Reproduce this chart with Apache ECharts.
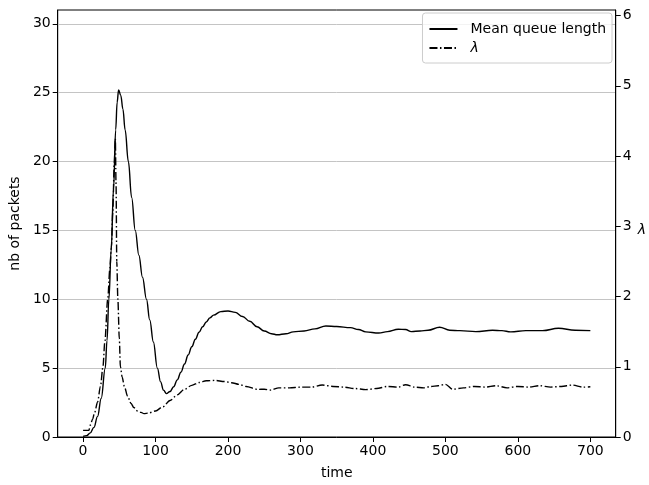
<!DOCTYPE html>
<html>
<head>
<meta charset="utf-8">
<script src="https://cdn.jsdelivr.net/npm/echarts@6/dist/echarts.min.js"></script>
<style>html,body{margin:0;padding:0;background:#fff}#c{width:649px;height:485px}</style>
</head>
<body>
<div id="c"></div>
<script>
var xTicks = [0, 100, 200, 300, 400, 500, 600, 700];
var leftTicks = [0, 5, 10, 15, 20, 25, 30];
var rightTicks = [0, 1, 2, 3, 4, 5, 6];

var queueT = [0,5,10,15,20,25,30.6,33,35.6,38.8,42,45,47,49,52,55,58,62.5,67,72,77,82,87.5,92,97,102.5,107,111,115,120,125,130,135,140,145,150,155,160,165,170,175,180,190,200,210,220,230,240,250,260,268,280,290,305,320,335,350,369,380,390,408,420,435,445,453,465,476,492,506,520,542,565,578,590,611,634,656,679,700];
var queueV = [0.05,0.1,0.3,0.7,1.5,2.8,5,7,10,13.6,18,22.3,24.3,25.2,24.8,23.8,22.3,20,17.4,15,13.2,11.6,10,8.5,6.9,5.0,4.0,3.4,3.15,3.3,3.65,4.15,4.7,5.3,5.95,6.55,7.1,7.6,8.0,8.35,8.65,8.85,9.1,9.15,9.05,8.75,8.4,8.0,7.7,7.5,7.42,7.5,7.63,7.7,7.85,8.06,8.02,7.94,7.8,7.63,7.55,7.65,7.82,7.8,7.65,7.7,7.75,7.97,7.75,7.72,7.65,7.75,7.72,7.63,7.72,7.72,7.89,7.75,7.72];

var lambdaT = [0,8,10,13,16,20,24,27.4,30,34,37,39,41,43,44.5,45.5,46.5,48,50,51.5,54,57,61.5,66,70,75,80,84,90,100,110,120,130,140,150,160,170,182,195,205,215,225,241,250,259,270,285,300,315,330,345,360,375,390,405,420,435,445,458,470,480,490,500,510,525,540,555,570,585,600,615,630,645,660,675,690,700];
var lambdaV = [0.095,0.095,0.17,0.25,0.35,0.5,0.72,1.0,1.35,1.96,2.4,2.7,3.2,3.9,4.25,3.6,2.5,1.96,1.4,1.0,0.85,0.72,0.58,0.48,0.42,0.37,0.35,0.333,0.34,0.37,0.43,0.52,0.6,0.68,0.735,0.775,0.8,0.806,0.79,0.773,0.75,0.72,0.678,0.68,0.668,0.7,0.7,0.71,0.71,0.74,0.72,0.71,0.69,0.675,0.69,0.72,0.71,0.745,0.71,0.7,0.72,0.73,0.75,0.68,0.70,0.72,0.71,0.73,0.70,0.72,0.71,0.73,0.71,0.72,0.74,0.71,0.715];

function pairs(t, v) { return t.map(function (x, i) { return [x, v[i]]; }); }

var FONT = 'DejaVu Sans';
var chart = echarts.init(document.getElementById('c'), null, {renderer: 'canvas'});
chart.setOption({
  animation: false,
  backgroundColor: '#fff',
  textStyle: {fontFamily: FONT, color: '#000'},
  grid: {left: 57, right: 29, top: 10, bottom: 47, show: true, borderColor: '#000', borderWidth: 1, backgroundColor: 'transparent'},
  legend: {
    orient: 'vertical', right: 37, top: 13,
    backgroundColor: 'rgba(255,255,255,0.8)',
    borderColor: '#cccccc', borderWidth: 1, borderRadius: 3,
    padding: [9, 6, 8, 6], itemGap: 5, itemWidth: 28, itemHeight: 14,
    itemStyle: {color: 'transparent', borderWidth: 0, opacity: 0},
    textStyle: {fontFamily: FONT, fontSize: 14, color: '#000', padding: [0, 0, 0, 8], rich: {i: {fontStyle: 'italic', fontFamily: FONT, fontSize: 14}}},
    formatter: function (n) { return n === 'λ' ? '{i|λ}' : n; },
    data: ['Mean queue length', 'λ']
  },
  xAxis: {
    type: 'value', min: -35, max: 735,
    name: 'time', nameLocation: 'middle', nameGap: 29,
    nameTextStyle: {fontFamily: FONT, fontSize: 14, color: '#000'},
    axisLine: {show: true, onZero: false, lineStyle: {color: '#000', width: 1}},
    axisTick: {show: true, inside: false, length: 5, customValues: xTicks, lineStyle: {color: '#000'}},
    axisLabel: {customValues: xTicks, fontFamily: FONT, fontSize: 14, color: '#000', margin: 7},
    splitLine: {show: false}
  },
  yAxis: [{
    type: 'value', min: 0, max: 31, position: 'left',
    name: 'nb of packets', nameLocation: 'middle', nameGap: 31,
    nameTextStyle: {fontFamily: FONT, fontSize: 14, color: '#000'},
    axisLine: {show: true, onZero: false, lineStyle: {color: '#000', width: 1}},
    axisTick: {show: true, inside: false, length: 5, customValues: leftTicks, lineStyle: {color: '#000'}},
    axisLabel: {customValues: leftTicks, fontFamily: FONT, fontSize: 14, color: '#000', margin: 7},
    splitLine: {show: true, lineStyle: {color: '#c4c4c4', width: 1}}
  }, {
    type: 'value', min: 0, max: 6.08, position: 'right',
    name: 'λ', nameLocation: 'middle', nameGap: 22, nameRotate: 0,
    nameTextStyle: {fontFamily: FONT, fontSize: 14, color: '#000', fontStyle: 'italic', verticalAlign: 'top'},
    axisLine: {show: true, onZero: false, lineStyle: {color: '#000', width: 1}},
    axisTick: {show: true, inside: false, length: 5, customValues: rightTicks, lineStyle: {color: '#000'}},
    axisLabel: {customValues: rightTicks, fontFamily: FONT, fontSize: 14, color: '#000', margin: 7},
    splitLine: {show: false}
  }],
  series: [{
    name: 'Mean queue length', type: 'line', yAxisIndex: 0,
    data: pairs(queueT, queueV), showSymbol: false, symbol: 'none',
    smooth: 0.4, smoothMonotone: 'x',
    color: '#000', lineStyle: {color: '#000', width: 1.4}
  }, {
    name: 'λ', type: 'line', yAxisIndex: 1,
    data: pairs(lambdaT, lambdaV), showSymbol: false, symbol: 'none',
    smooth: 0.3, smoothMonotone: 'x',
    color: '#000', lineStyle: {color: '#000', width: 1.4, type: [8, 2.5, 1.5, 2.5]}
  }]
});
</script>
</body>
</html>
